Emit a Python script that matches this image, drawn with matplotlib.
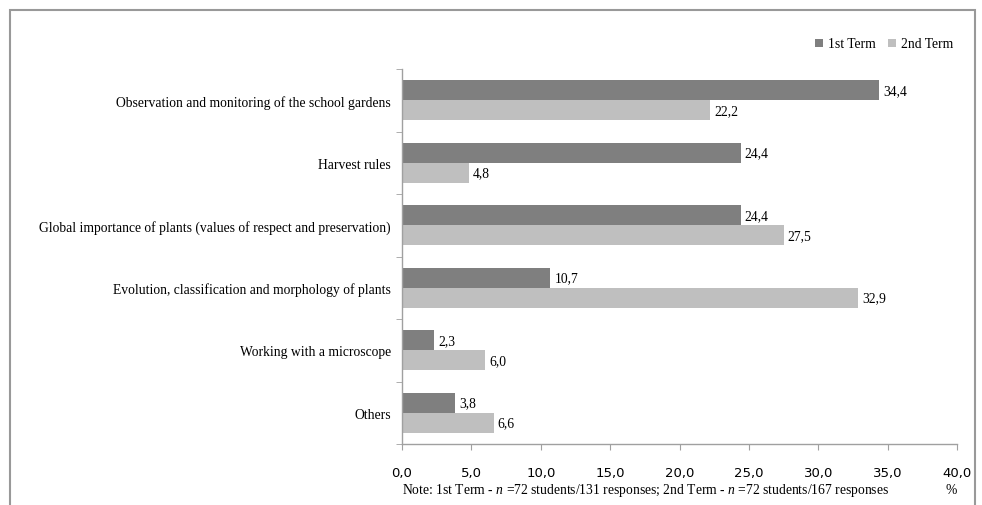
import numpy as np
import matplotlib.pyplot as plt
from matplotlib.patches import Rectangle

plt.rcParams['font.family'] = ['Liberation Serif', 'DejaVu Serif']
plt.rcParams['mathtext.fontset'] = 'custom'
plt.rcParams['mathtext.rm'] = 'Liberation Serif'
plt.rcParams['mathtext.it'] = 'Liberation Serif:italic'

# ============================================================
# DATA
# ============================================================
categories = [
    "Observation and monitoring of the school gardens",
    "Harvest rules",
    "Global importance of plants (values of respect and preservation)",
    "Evolution, classification and morphology of plants",
    "Working with a microscope",
    "Others",
]
term1 = [34.4, 24.4, 24.4, 10.7, 2.3, 3.8]
term2 = [22.2, 4.8, 27.5, 32.9, 6.0, 6.6]
series_labels = ["1st Term", "2nd Term"]
xticks = [0, 5, 10, 15, 20, 25, 30, 35, 40]

C1 = '#7f7f7f'
C2 = '#bfbfbf'
FS = 9.8

def fmt(v):
    return f"{v:.1f}".replace('.', ',')

# ============================================================
# PLOT
# ============================================================
fig = plt.figure(figsize=(9.82, 5.06), dpi=100)
ax = fig.add_axes([402 / 982, 1 - 445 / 506, 555 / 982, 375 / 506])

n = len(categories)
y = np.arange(n)
h = 0.32
ax.barh(y - h / 2, term1, height=h, color=C1, label=series_labels[0])
ax.barh(y + h / 2, term2, height=h, color=C2, label=series_labels[1])

for yi, v in zip(y, term1):
    ax.text(v + 0.3, yi - h / 2, fmt(v), va='center', ha='left', fontsize=FS)
for yi, v in zip(y, term2):
    ax.text(v + 0.3, yi + h / 2, fmt(v), va='center', ha='left', fontsize=FS)

ax.set_ylim(n - 0.5, -0.5)
ax.set_xlim(0, 40)

ax.set_yticks(y)
ax.set_yticklabels(categories, fontsize=FS)
ax.tick_params(axis='y', length=0, pad=8)
# category boundary marks on the y axis
ax.set_yticks(np.arange(-0.5, n, 1), minor=True)
ax.tick_params(axis='y', which='minor', length=4, color='#a0a0a0')

ax.set_xticks(xticks)
ax.set_xticklabels([fmt(t) for t in xticks], fontsize=9.5,
                   family=['DejaVu Sans Condensed', 'DejaVu Sans'])
ax.tick_params(axis='x', length=4, color='#a0a0a0', pad=12)

for s in ['top', 'right']:
    ax.spines[s].set_visible(False)
for s in ['left', 'bottom']:
    ax.spines[s].set_color('#a0a0a0')
    ax.spines[s].set_linewidth(1.0)

ax.legend(loc='lower right', bbox_to_anchor=(1.003, 1.035), ncol=2, frameon=False,
          fontsize=FS, handlelength=0.55, handleheight=0.55, handletextpad=0.4,
          columnspacing=0.9, borderaxespad=0)

fig.text(402 / 982, 1 - 491 / 506, "Note: 1st Term - $\\it{n}$ =72 students/131 responses; "
         "2nd Term - $\\it{n}$ =72 students/167 responses",
         ha='left', va='center', fontsize=FS)
fig.text(957 / 982, 1 - 491 / 506, "%", ha='right', va='center', fontsize=FS)

# outer chart frame
fig.patches.append(Rectangle((10 / 982, -0.05), 965 / 982, 1 - 11 / 506 + 0.05,
                             transform=fig.transFigure, fill=False,
                             edgecolor='#999999', linewidth=1.5))

plt.savefig('out.png', dpi=100)
